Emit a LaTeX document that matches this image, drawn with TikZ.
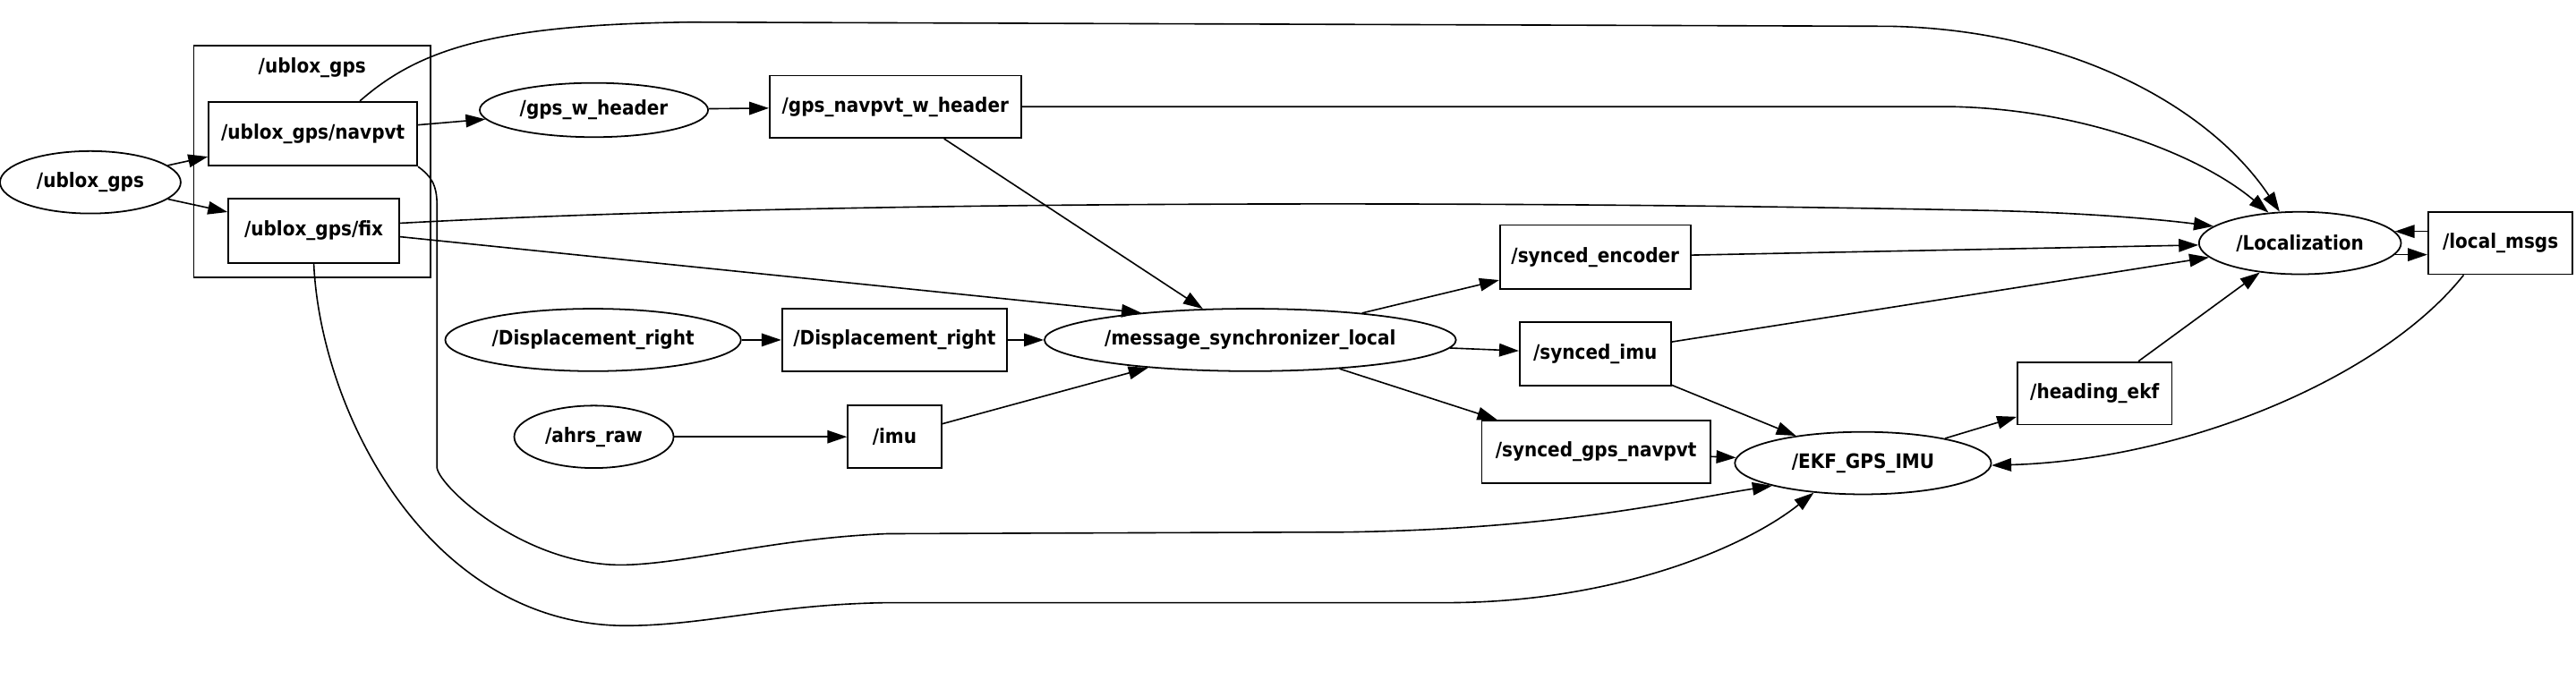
\documentclass[tikz,border=0pt]{standalone}
\usepackage{fontspec}
\usepackage{tikz}
\usetikzlibrary{shapes.geometric,arrows.meta}
\newfontfamily\lblfont{DejaVu Sans Condensed}
\newcommand{\nfont}{\lblfont\bfseries\fontsize{6.9}{7.8}\selectfont}
\tikzset{
  nd_node/.style={
    ellipse, draw=black, line width=0.55pt,
    inner sep=0pt, font=\nfont},
  nd_topic/.style={
    rectangle, draw=black, line width=0.55pt,
    inner sep=0pt, font=\nfont},
  nd_clu/.style={
    rectangle, draw=black, line width=0.55pt, inner sep=0pt},
  sz/.style 2 args={minimum width=#1*0.2mm, minimum height=#2*0.2mm},
  arr/.style={-{Triangle[length=6.8pt,width=4.5pt]},line width=0.5pt},
}

\begin{document}
\begin{tikzpicture}[x=0.2mm,y=-0.2mm]
\useasboundingbox (0,0) rectangle (1568,414);

%% cluster /ublox_gps
\node[nd_clu,sz={144}{141}] at (190,98.5) (clu){};
\node[font=\nfont] at (190,41) (clulbl){/ublox\_gps};

%% nodes (ellipses) and topics (boxes)
\node[nd_node,sz={110}{38}]   at (55,111)     (ublox){/ublox\_gps};
\node[nd_topic,sz={127}{39}]  at (190.5,81.5) (navpvt){/ublox\_gps/navpvt};
\node[nd_topic,sz={104}{39}]  at (191,140.5)  (fix){/ublox\_gps/fix};
\node[nd_node,sz={139}{33}]   at (361.5,67)   (gpswh){/gps\_w\_header};
\node[nd_topic,sz={153}{38}]  at (545,65)     (gpsnh){/gps\_navpvt\_w\_header};
\node[nd_node,sz={180}{38}]   at (361,207)    (dispn){/Displacement\_right};
\node[nd_topic,sz={137}{38}]  at (544.5,207)  (dispt){/Displacement\_right};
\node[nd_node,sz={97}{38}]    at (361.5,266)  (ahrs){/ahrs\_raw};
\node[nd_topic,sz={57}{38}]   at (544.5,266)  (imu){/imu};
\node[nd_node,sz={249}{38}]   at (761,207)    (msync){/message\_synchronizer\_local};
\node[nd_topic,sz={116}{39}]  at (971,156.5)  (senc){/synced\_encoder};
\node[nd_topic,sz={92}{39}]   at (971,215.5)  (simu){/synced\_imu};
\node[nd_topic,sz={139}{38}]  at (971.5,275)  (sgps){/synced\_gps\_navpvt};
\node[nd_node,sz={156}{38}]   at (1134,282)   (ekf){/EKF\_GPS\_IMU};
\node[nd_topic,sz={94}{38}]   at (1275,239.5) (head){/heading\_ekf};
\node[nd_node,sz={123}{38}]   at (1400,148)   (loc){/Localization};
\node[nd_topic,sz={88}{38}]   at (1522,148)   (lmsgs){/local\_msgs};

%% straight edges
\draw[arr] (ublox)--(navpvt); \draw[arr] (ublox)--(fix);
\draw[arr] (navpvt)--(gpswh); \draw[arr] (gpswh)--(gpsnh);
\draw[arr] (gpsnh)--(msync); \draw[arr] (fix.-4)--(msync.166);
\draw[arr] (dispn)--(dispt); \draw[arr] (dispt)--(msync);
\draw[arr] (ahrs)--(imu);    \draw[arr] (imu)--(msync);
\draw[arr] (msync)--(senc); \draw[arr] (msync)--(simu); \draw[arr] (msync)--(sgps);
\draw[arr] (senc)--(loc); \draw[arr] (simu)--(loc);
\draw[arr] (simu)--(ekf); \draw[arr] (sgps)--(ekf);
\draw[arr] (ekf)--(head); \draw[arr] (head)--(loc);
\draw[arr] (loc.-7.3)--(loc.-7.3 -| lmsgs.west);
\draw[arr] (lmsgs.west |- loc.7.3)--(loc.7.3);

%% long edges
\draw[arr] (navpvt.35) .. controls (255,30) and (300,15) .. (420,13.5)
  -- (1150,16) .. controls (1260,18) and (1345,65) .. (loc.123);
\draw[arr] (gpsnh.east) -- (1190,65) .. controls (1270,67) and (1340,95) .. (loc.136);
\draw[arr] (fix.5) .. controls (500,122) and (900,122) .. (1200,128)
  .. controls (1260,129) and (1310,133) .. (loc.169);
\draw[arr] (navpvt.south east) .. controls (262,107) and (266,112) .. (266,125)
  -- (266,285) .. controls (268,297) and (320,345) .. (380,344)
  .. controls (420,343) and (470,328) .. (540,325) -- (820,324)
  .. controls (950,322) and (1020,305) .. (ekf.194);
\draw[arr] (fix.south) .. controls (195,250) and (260,380) .. (380,381)
  .. controls (430,381) and (470,368) .. (540,367) -- (880,367)
  .. controls (980,367) and (1060,335) .. (ekf.211);
\draw[arr] (lmsgs.221) .. controls (1450,230) and (1330,280) .. (ekf.-1);

\end{tikzpicture}
\end{document}
